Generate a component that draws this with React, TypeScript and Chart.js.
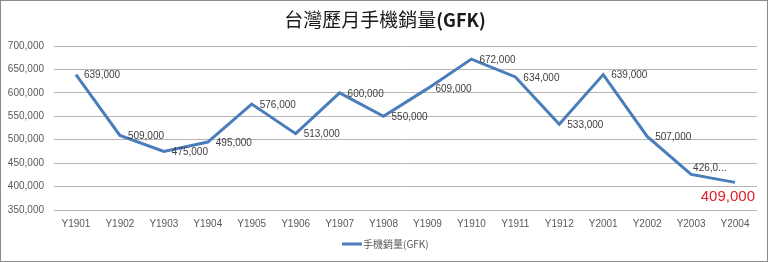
import React, { useEffect, useRef } from 'react';
import { Chart, registerables } from 'chart.js';

Chart.register(...registerables);

const categories = [
  'Y1901', 'Y1902', 'Y1903', 'Y1904', 'Y1905', 'Y1906', 'Y1907', 'Y1908',
  'Y1909', 'Y1910', 'Y1911', 'Y1912', 'Y2001', 'Y2002', 'Y2003', 'Y2004',
];
const salesValues = [
  639000, 509000, 475000, 495000, 576000, 513000, 600000, 550000,
  609000, 672000, 634000, 533000, 639000, 507000, 426000, 409000,
];
const yMin = 350000;
const yMax = 700000;
const yStep = 50000;
const chartTitle = '台灣歷月手機銷量';
const chartTitleSuffix = '(GFK)';
const seriesName = '手機銷量(GFK)';

const LINE_COLOR = '#4a7ebb';
const fmt = (v: number) => v.toLocaleString('en-US');

const valueLabels = {
  id: 'valueLabels',
  afterDatasetsDraw(chart: any) {
    const ctx = chart.ctx;
    const meta = chart.getDatasetMeta(0);
    const data = chart.data.datasets[0].data as number[];
    const last = data.length - 1;
    ctx.save();
    meta.data.forEach((pt: any, i: number) => {
      let text = fmt(data[i]);
      if (i === last) {
        ctx.font = '15px "Liberation Sans"';
        ctx.fillStyle = '#e0202a';
        ctx.textAlign = 'right';
        ctx.textBaseline = 'middle';
        ctx.fillText(text, chart.chartArea.right - 2, pt.y + 15);
        return;
      }
      ctx.font = '10px "Liberation Sans"';
      ctx.fillStyle = '#404040';
      ctx.textAlign = 'left';
      ctx.textBaseline = 'middle';
      let dx = 8;
      let dy = 1;
      if (i === last - 1) {
        text = text.slice(0, 5) + '...';
        dx = 2;
        dy = -6;
      }
      ctx.fillText(text, pt.x + dx, pt.y + dy);
    });
    ctx.restore();
  },
};

const titleAndLegend = {
  id: 'titleAndLegend',
  afterDraw(chart: any) {
    const ctx = chart.ctx;
    const w = chart.width;
    ctx.save();
    // title
    ctx.textBaseline = 'middle';
    ctx.fillStyle = '#1a1a1a';
    const f1 = '19px "Noto Sans CJK TC"';
    const f2 = 'bold 18px "Noto Sans CJK TC"';
    ctx.font = f1;
    const w1 = ctx.measureText(chartTitle).width;
    ctx.font = f2;
    const w2 = ctx.measureText(chartTitleSuffix).width;
    const x0 = w / 2 + 1 - (w1 + w2) / 2;
    ctx.textAlign = 'left';
    ctx.font = f1;
    ctx.fillText(chartTitle, x0, 19);
    ctx.font = f2;
    ctx.fillText(chartTitleSuffix, x0 + w1, 19);
    // legend
    const ly = 243;
    ctx.strokeStyle = LINE_COLOR;
    ctx.lineWidth = 3;
    ctx.beginPath();
    ctx.moveTo(341, ly);
    ctx.lineTo(361, ly);
    ctx.stroke();
    ctx.font = '10px "Noto Sans CJK TC"';
    ctx.fillStyle = '#595959';
    ctx.fillText(seriesName, 362, ly);
    ctx.restore();
  },
};

export default function App() {
  const ref = useRef<HTMLCanvasElement | null>(null);
  useEffect(() => {
    if (!ref.current) return;
    const chart = new Chart(ref.current, {
      type: 'line',
      data: {
        labels: categories,
        datasets: [
          {
            label: seriesName,
            data: salesValues,
            borderColor: LINE_COLOR,
            backgroundColor: LINE_COLOR,
            borderWidth: 3,
            pointRadius: 0,
            tension: 0,
            fill: false,
          },
        ],
      },
      options: {
        responsive: false,
        animation: false,
        layout: { padding: { top: 45, right: 10, left: 0, bottom: 0 } },
        plugins: {
          legend: { display: false },
          title: { display: false },
          tooltip: { enabled: false },
        },
        scales: {
          x: {
            offset: true,
            grid: { display: false, drawTicks: false },
            border: { display: false },
            ticks: {
              color: '#595959',
              font: { family: '"Liberation Sans"', size: 10 },
              padding: 8,
              maxRotation: 0,
              autoSkip: false,
            },
            afterFit: (s: any) => {
              s.height = 51;
            },
          },
          y: {
            min: yMin,
            max: yMax,
            grid: { color: '#b5b5b5', lineWidth: 1, drawTicks: false },
            border: { display: false },
            ticks: {
              stepSize: yStep,
              color: '#595959',
              font: { family: '"Liberation Sans"', size: 10 },
              padding: 10,
              callback: (v: any) => fmt(Number(v)),
            },
            afterFit: (s: any) => {
              s.width = 53;
            },
          },
        },
      },
      plugins: [valueLabels, titleAndLegend],
    });
    return () => chart.destroy();
  }, []);
  return (
    <div
      style={{
        position: 'fixed',
        left: 0,
        top: 0,
        width: 768,
        height: 262,
        border: '1px solid #8a8a8a',
        boxSizing: 'border-box',
        background: '#ffffff',
      }}
    >
      <canvas ref={ref} width={766} height={260} style={{ display: 'block' }} />
    </div>
  );
}
